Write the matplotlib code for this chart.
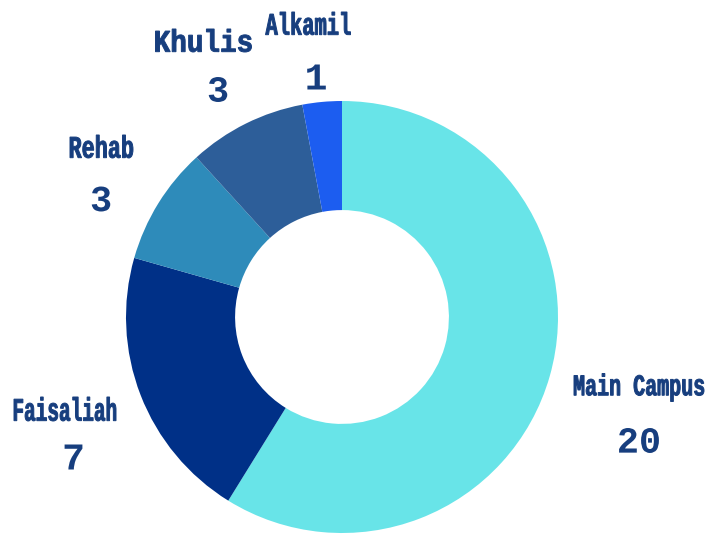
import matplotlib
matplotlib.use("Agg")
import matplotlib.pyplot as plt
from matplotlib.textpath import TextPath
from matplotlib.patches import PathPatch
from matplotlib.font_manager import FontProperties
from matplotlib.transforms import Affine2D

# data
labels = ['Main Campus', 'Faisaliah', 'Rehab', 'Khulis', 'Alkamil']
values = [20, 7, 3, 3, 1]
colors = ['#68E4E8', '#003087', '#2E8BBA', '#2D5E99', '#1C5DF0']

W, H = 709, 535
fig = plt.figure(figsize=(W / 100, H / 100), dpi=100)
ax = fig.add_axes([0, 0, 1, 1])

# pixel-like coordinates, y measured from top of image
cx, cy, R = 342, 317, 216
ax.pie(values, colors=colors, startangle=90, counterclock=False,
       center=(cx, H - cy), radius=R,
       wedgeprops=dict(width=R * 0.505, linewidth=0))
ax.set_xlim(0, W)
ax.set_ylim(0, H)
ax.set_aspect('equal')
ax.axis('off')

fp = FontProperties(family='Liberation Mono', weight='bold')
txt_color = '#173E7E'


def draw_text(s, x, y, h, w=None, lw=0.0):
    # draw string with its ink box centered at (x, y) (image px)
    p = TextPath((0, 0), s, size=40, prop=fp)
    ext = p.get_extents()
    sy = h / ext.height
    sx = sy if w is None else w / ext.width
    tr = (Affine2D().translate(-(ext.x0 + ext.width / 2), -(ext.y0 + ext.height / 2))
          .scale(sx, sy).translate(x, H - y))
    ax.add_patch(PathPatch(tr.transform_path(p), fc=txt_color,
                           ec=txt_color if lw else 'none', lw=lw))


# name labels: (x, y, height, width)
name_pos = {
    'Main Campus': (639, 387.5, 28, 130),
    'Faisaliah': (65, 409, 24, 102),
    'Rehab': (101.5, 146.5, 23, 63),
    'Khulis': (203.5, 40.5, 23, 96),
    'Alkamil': (308, 23.5, 23, 85),
}
num_pos = {
    'Main Campus': (639, 440.5),
    'Faisaliah': (73.5, 457),
    'Rehab': (101, 199),
    'Khulis': (218, 89.5),
    'Alkamil': (316.5, 77),
}

for lab, v in zip(labels, values):
    x, y, h, w = name_pos[lab]
    draw_text(lab, x, y, h, w, lw=0.7)
    nx, ny = num_pos[lab]
    draw_text(str(v), nx, ny, 25)

fig.savefig('out.png', dpi=100)
